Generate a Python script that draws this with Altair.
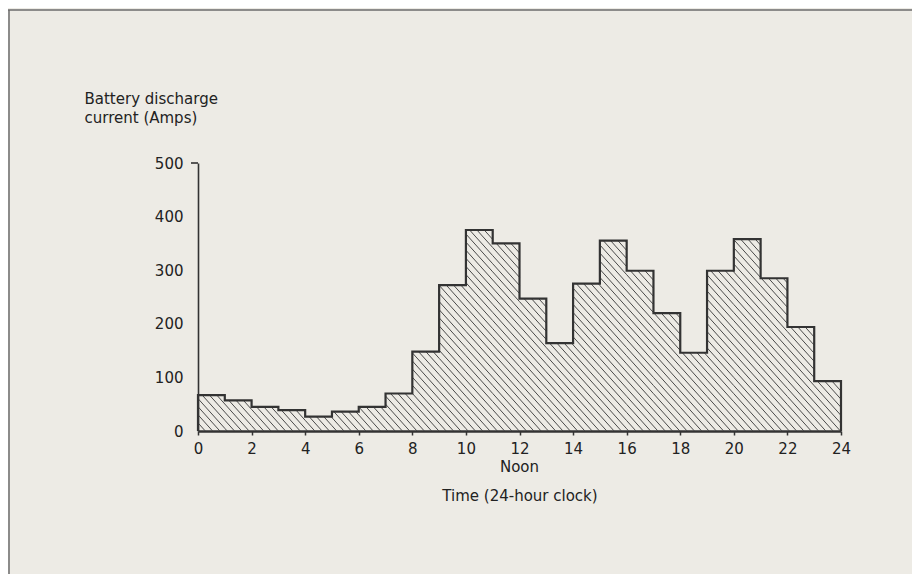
import altair as alt
import pandas as pd
import math

# Hourly battery discharge current (Amps), hour h covers [h, h+1)
hours = list(range(24))
current = [67, 57, 45, 39, 27, 36, 45, 70, 148, 272,
           375, 350, 247, 164, 275, 355, 299, 220, 146, 299,
           358, 285, 194, 93]
x_ticks = list(range(0, 25, 2))
y_ticks = [0, 100, 200, 300, 400, 500]

W, H = 643, 268
PAD_L, PAD_T, PAD_R, PAD_B = 190, 155, 71, 143
FONT = "DejaVu Sans"
FS = 15
INK = "#222222"
BG = "#edebe5"

# ---- outline of the step histogram
outline = [{"t": 0, "v": 0, "o": 0}]
for i, (h, v) in enumerate(zip(hours, current)):
    outline.append({"t": h, "v": v, "o": i + 1})
outline.append({"t": 24, "v": current[-1], "o": 25})
outline.append({"t": 24, "v": 0, "o": 26})
outline_df = pd.DataFrame(outline)

# ---- diagonal hatching, clipped to each hourly bar
px_per_hour = W / 24
px_per_unit = H / 500
slope_px = math.tan(math.radians(48))
k = slope_px * px_per_hour / px_per_unit       # units per hour
spacing = 7.3 / px_per_hour                    # hours
segs = []
x0 = 0.0
xmax = 24 + max(current) / k
while x0 <= xmax:
    for h, v in zip(hours, current):
        xa = max(h, x0 - v / k)
        xb = min(h + 1, x0)
        if xa < xb:
            segs.append({"xa": xa, "ya": k * (x0 - xa), "xb": xb, "yb": k * (x0 - xb)})
    x0 += spacing
hatch_df = pd.DataFrame(segs)

xscale = alt.Scale(domain=[0, 24], nice=False, zero=False)
yscale = alt.Scale(domain=[0, 500], nice=False)

hatch = alt.Chart(hatch_df).mark_rule(color="#4a4a4a", strokeWidth=1.0).encode(
    x=alt.X("xa:Q", scale=xscale,
            axis=alt.Axis(values=x_ticks, title="Time (24-hour clock)",
                          titleY=64, titleBaseline="middle", titleFont=FONT,
                          titleFontSize=FS, titleFontWeight="normal", titleColor=INK,
                          labelFont=FONT, labelFontSize=FS, labelColor=INK,
                          labelPadding=6, labelFlush=False,
                          domainColor="#333333", domainWidth=2.5,
                          tickColor="#333333", tickSize=4, tickWidth=1.5,
                          grid=False)),
    y=alt.Y("ya:Q", scale=yscale,
            axis=alt.Axis(values=y_ticks, title=["Battery discharge", "current (Amps)"],
                          titleAngle=0, titleAlign="left", titleBaseline="top",
                          titleX=-114, titleY=-72, titleLineHeight=19,
                          titleFont=FONT, titleFontSize=FS, titleFontWeight="normal",
                          titleColor=INK,
                          labelFont=FONT, labelFontSize=FS, labelColor=INK,
                          labelPadding=15, ticks=False,
                          domainColor="#333333", domainWidth=1.6, grid=False)),
    x2="xb:Q",
    y2="yb:Q",
)

line = alt.Chart(outline_df).mark_line(
    interpolate="step-after", color="#333333", strokeWidth=2.2
).encode(
    x=alt.X("t:Q", scale=xscale),
    y=alt.Y("v:Q", scale=yscale),
    order="o:Q",
)

top_tick = alt.Chart(pd.DataFrame({"v": [y_ticks[-1]]})).mark_rule(
    color="#333333", strokeWidth=1.6
).encode(y=alt.Y("v:Q", scale=yscale), x=alt.value(-7), x2=alt.value(0))

noon = alt.Chart(pd.DataFrame({"t": [12], "s": ["Noon"]})).mark_text(
    font=FONT, fontSize=FS, color=INK, baseline="middle"
).encode(x=alt.X("t:Q", scale=xscale), y=alt.value(H + 36), text="s:N")

frame_top = alt.Chart(pd.DataFrame({"a": [0]})).mark_rule(
    color="#6b6b6b", strokeWidth=1.5
).encode(x=alt.value(-PAD_L), x2=alt.value(W + PAD_R), y=alt.value(-PAD_T + 2))

frame_left = alt.Chart(pd.DataFrame({"a": [0]})).mark_rule(
    color="#6b6b6b", strokeWidth=1.5
).encode(x=alt.value(-PAD_L + 1), y=alt.value(-PAD_T + 2), y2=alt.value(H + PAD_B))

chart = alt.layer(hatch, line, top_tick, noon, frame_top, frame_left).properties(
    width=W, height=H,
    autosize=alt.AutoSizeParams(type="none"),
    padding={"left": PAD_L, "top": PAD_T, "right": PAD_R, "bottom": PAD_B},
    background=BG,
).configure_view(stroke=None)

chart.save("out.html", embed_options={"renderer": "svg", "actions": False})
